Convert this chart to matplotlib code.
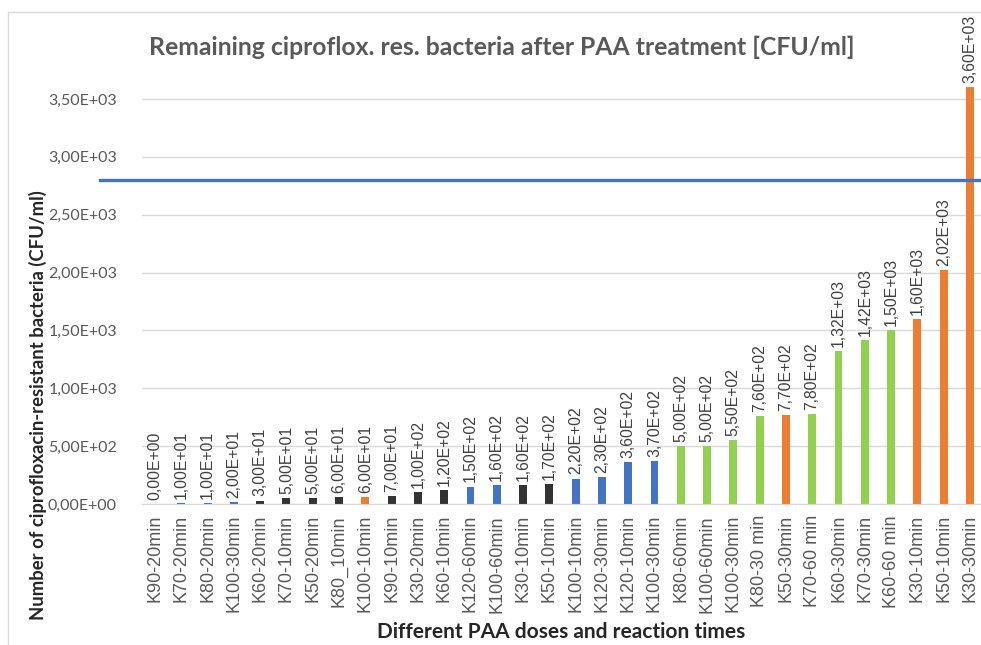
import matplotlib
matplotlib.use('Agg')
import matplotlib.pyplot as plt
import matplotlib.transforms as mtransforms
from matplotlib.patches import Rectangle
import numpy as np

plt.rcParams['font.family'] = ['Lato', 'DejaVu Sans']

# data
treatments = ['K90-20min', 'K70-20min', 'K80-20min', 'K100-30min', 'K60-20min',
              'K70-10min', 'K50-20min', 'K80_10min', 'K100-10min', 'K90-10min',
              'K30-20min', 'K60-10min', 'K120-60min', 'K100-60min', 'K30-10min',
              'K50-10min', 'K100-10min', 'K120-30min', 'K120-10min', 'K100-30min',
              'K80-60min', 'K100-60min', 'K100-30min', 'K80-30 min', 'K50-30min',
              'K70-60 min', 'K60-30min', 'K70-30min', 'K60-60 min', 'K30-10min',
              'K50-10min', 'K30-30min']
cfu = [0, 10, 10, 20, 30, 50, 50, 60, 60, 70, 100, 120, 150, 160, 160, 170,
       220, 230, 360, 370, 500, 500, 550, 760, 770, 780, 1320, 1420, 1500,
       1600, 2020, 3600]
groups = ['blue', 'blue', 'blue', 'blue', 'black', 'black', 'black', 'black',
          'orange', 'black', 'black', 'black', 'blue', 'blue', 'black', 'black',
          'blue', 'blue', 'blue', 'blue', 'green', 'green', 'green', 'green',
          'orange', 'green', 'green', 'green', 'green', 'orange', 'orange', 'orange']
threshold = 2800
y_ticks = [0, 500, 1000, 1500, 2000, 2500, 3000, 3500]

palette = {'blue': '#4472C4', 'black': '#333333', 'orange': '#ED7D31', 'green': '#92D050'}


def sci_comma(v):
    return ('%.2E' % v).replace('.', ',')


fig = plt.figure(figsize=(9.81, 6.45), dpi=100)
ax = fig.add_axes([142 / 981, 0.2186, 839 / 981, 0.6817])

x_pos = np.arange(len(treatments))
bar_colors = [palette[g] for g in groups]
rects = ax.bar(x_pos, cfu, width=0.3, color=bar_colors, zorder=2)

for rect, v in zip(rects, cfu):
    ax.annotate(sci_comma(v), (rect.get_x() + rect.get_width() / 2, rect.get_height()),
                xytext=(0, 3), textcoords='offset points', rotation=90,
                ha='center', va='bottom', fontsize=11.3, color='#404040',
                family=['Liberation Sans', 'DejaVu Sans'])

ax.set_xlim(-0.494, 31.42)
ax.set_ylim(0, 3800)
ax.set_yticks(y_ticks)
ax.set_yticklabels([sci_comma(t) for t in y_ticks], fontsize=11.5, color='#595959')
ax.set_xticks(x_pos)
ax.set_xticklabels(treatments, rotation=90, fontsize=13, color='#595959',
                   family=['Liberation Sans', 'DejaVu Sans'])
ax.tick_params(length=0)
ax.tick_params(axis='y', pad=18)
ax.tick_params(axis='x', pad=8)

for s in ['top', 'right', 'left']:
    ax.spines[s].set_visible(False)
ax.spines['bottom'].set_color('#D9D9D9')
ax.yaxis.grid(True, color='#D9D9D9', linewidth=1)
ax.set_axisbelow(True)

ax.set_xlabel('Different PAA doses and reaction times', fontsize=15, fontweight='bold',
              color='#262626', labelpad=7)
ax.set_ylabel('Number of ciprofloxacin-resistant bacteria (CFU/ml)', fontsize=13.3,
              fontweight='bold', color='#262626')
ax.yaxis.set_label_coords(-0.113, 0.225)

fig.text(0.511, 0.927, 'Remaining ciproflox. res. bacteria after PAA treatment [CFU/ml]',
         ha='center', va='center', fontsize=17.8, fontweight='bold', color='#595959')

# threshold line, runs past the plot area to the right edge
trans = mtransforms.blended_transform_factory(fig.transFigure, ax.transData)
ax.plot([100 / 981, 1.0], [threshold, threshold], color='#4472C4', linewidth=2.4,
        transform=trans, clip_on=False, zorder=5)

# chart frame
fig.patches.append(Rectangle((8 / 981, -0.01), 1.0, 1 - 12 / 645 + 0.01,
                             transform=fig.transFigure, fill=False,
                             edgecolor='#D9D9D9', linewidth=1))

fig.savefig('out.png', dpi=100)
